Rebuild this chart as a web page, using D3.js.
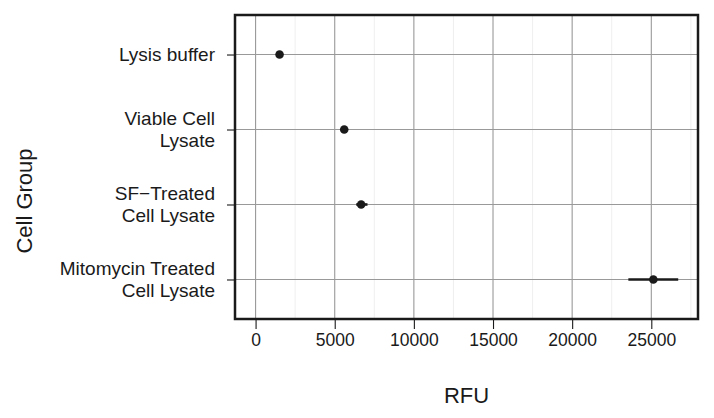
<!DOCTYPE html>
<html>
<head>
<meta charset="utf-8">
<script src="https://cdn.jsdelivr.net/npm/d3@7"></script>
<style>
  body { margin: 0; background: #fff; }
  svg text { font-family: "Liberation Sans", Arial, Helvetica, sans-serif; fill: #1a1a1a; }
</style>
</head>
<body>
<svg id="chart" width="714" height="418"></svg>
<script>
// cell groups, top to bottom (label lines split on "|")
var groups = ["Lysis buffer", "Viable Cell|Lysate", "SF\u2212Treated|Cell Lysate", "Mitomycin Treated|Cell Lysate"];
var meanRFU = [1515, 5600, 6670, 25130];
var lowRFU = [1480, 5450, 6360, 23550];
var highRFU = [1550, 5750, 7070, 26700];
var xTicks = [0, 5000, 10000, 15000, 20000, 25000];
var xMinor = [2500, 7500, 12500, 17500, 22500, 27500];

var svg = d3.select('#chart');
var margin = { left: 235, right: 16, top: 15, bottom: 99 };
var width = 714, height = 418;
var innerW = width - margin.left - margin.right;
var innerH = height - margin.top - margin.bottom;

var x = d3.scaleLinear()
    .domain([-1300, 27950])
    .range([0, innerW]);

var y = d3.scalePoint()
    .domain(groups)
    .range([0, innerH])
    .padding(0.527);

var g = svg.append('g')
    .attr('transform', `translate(${margin.left},${margin.top})`);

// minor grid
g.selectAll('.minor').data(xMinor.filter(d => x(d) < innerW)).enter()
    .append('line')
    .attr('x1', d => x(d)).attr('x2', d => x(d))
    .attr('y1', 0).attr('y2', innerH)
    .style('stroke', '#efefef').style('stroke-width', 1);

// major grid
g.selectAll('.vmajor').data(xTicks).enter()
    .append('line')
    .attr('x1', d => x(d)).attr('x2', d => x(d))
    .attr('y1', 0).attr('y2', innerH)
    .style('stroke', '#999').style('stroke-width', 1.1);
g.selectAll('.hmajor').data(groups).enter()
    .append('line')
    .attr('x1', 0).attr('x2', innerW)
    .attr('y1', d => y(d)).attr('y2', d => y(d))
    .style('stroke', '#999').style('stroke-width', 1.1);

// error bars + points
groups.forEach(function(gr, i) {
    g.append('line')
        .attr('x1', x(lowRFU[i])).attr('x2', x(highRFU[i]))
        .attr('y1', y(gr)).attr('y2', y(gr))
        .style('stroke', '#1a1a1a').style('stroke-width', 2.6);
    g.append('circle')
        .attr('cx', x(meanRFU[i])).attr('cy', y(gr))
        .attr('r', 4.3)
        .style('fill', '#1a1a1a');
});

// panel border
g.append('rect')
    .attr('x', 0).attr('y', 0)
    .attr('width', innerW).attr('height', innerH)
    .style('fill', 'none')
    .style('stroke', '#1a1a1a')
    .style('stroke-width', 2.5);

// x axis
var xAxis = g.append('g')
    .attr('transform', `translate(0,${innerH})`)
    .call(d3.axisBottom(x).tickValues(xTicks).tickSize(10).tickPadding(5).tickFormat(d3.format('d')));
xAxis.select('.domain').remove();
xAxis.selectAll('.tick line').style('stroke', '#1a1a1a').style('stroke-width', 1.1);
xAxis.selectAll('.tick text')
    .style('font-size', '17.5px')
    .style('fill', '#1a1a1a');

// y axis
var yAxis = g.append('g')
    .call(d3.axisLeft(y).tickSize(8).tickFormat(''));
yAxis.select('.domain').remove();
yAxis.selectAll('.tick line').style('stroke', '#1a1a1a').style('stroke-width', 1.1);

groups.forEach(function(gr) {
    var lines = gr.split('|');
    var lh = 22;
    var t = g.append('text')
        .attr('text-anchor', 'end')
        .style('font-size', '19px');
    lines.forEach(function(l, k) {
        t.append('tspan')
            .attr('x', -20)
            .attr('y', y(gr) + (k - (lines.length - 1) / 2) * lh + 6.5)
            .text(l);
    });
});

// axis titles
svg.append('text')
    .attr('x', margin.left + innerW / 2)
    .attr('y', 403)
    .attr('text-anchor', 'middle')
    .style('font-size', '22px')
    .text('RFU');

svg.append('text')
    .attr('transform', 'translate(32,201) rotate(-90)')
    .attr('text-anchor', 'middle')
    .style('font-size', '22px')
    .text('Cell Group');
</script>
</body>
</html>
